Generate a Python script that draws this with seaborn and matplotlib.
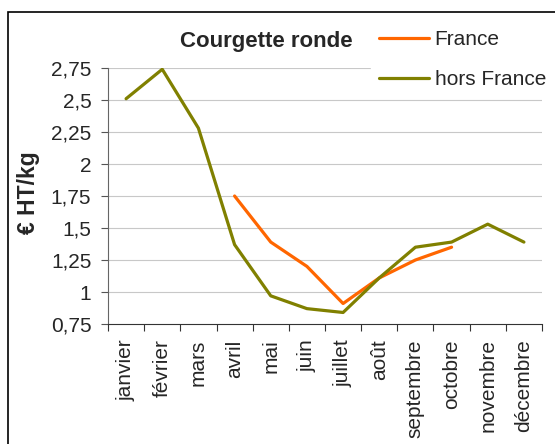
import numpy as np
import pandas as pd
import matplotlib
matplotlib.use('Agg')
import matplotlib.pyplot as plt
import seaborn as sns
from matplotlib.patches import Rectangle
from matplotlib.ticker import FixedLocator, FuncFormatter

months = ['janvier', 'février', 'mars', 'avril', 'mai', 'juin', 'juillet',
          'août', 'septembre', 'octobre', 'novembre', 'décembre']
france = [np.nan, np.nan, np.nan, 1.75, 1.39, 1.20, 0.91, 1.11, 1.25, 1.35,
          np.nan, np.nan]
hors_france = [2.51, 2.74, 2.28, 1.37, 0.97, 0.87, 0.84, 1.11, 1.35, 1.39,
               1.53, 1.39]
y_ticks = [0.75, 1.0, 1.25, 1.5, 1.75, 2.0, 2.25, 2.5, 2.75]

df = pd.DataFrame({
    'x': list(range(12)) * 2,
    'prix': france + hors_france,
    'origine': ['France'] * 12 + ['hors France'] * 12,
})

sns.set_style('white')
plt.rcParams['font.family'] = ['Liberation Sans', 'DejaVu Sans']

fig = plt.figure(figsize=(5.55, 4.44), dpi=100)
ax = fig.add_axes([108 / 555, 1 - 324 / 444, (542 - 108) / 555, (324 - 68) / 444])

for yv in y_ticks[1:]:
    ax.axhline(yv, color='#c8c8c8', lw=0.8, zorder=0)

sns.lineplot(data=df, x='x', y='prix', hue='origine',
             palette={'France': '#ff6600', 'hors France': '#808000'},
             lw=2.3, ax=ax, legend=True, zorder=3)

ax.set_xlim(-0.5, 11.5)
ax.set_ylim(0.75, 2.75)
ax.yaxis.set_major_locator(FixedLocator(y_ticks))
ax.yaxis.set_major_formatter(FuncFormatter(lambda v, p: f'{v:g}'.replace('.', ',')))
ax.set_xticks(range(12))
ax.set_xticklabels(months, rotation=90)
ax.set_xticks(np.arange(-0.5, 12, 1), minor=True)
ax.tick_params(axis='x', which='major', length=0, pad=11, labelsize=15)
ax.tick_params(axis='x', which='minor', length=5, width=0.8, color='#333333', direction='out', bottom=True)
ax.tick_params(axis='y', length=5, width=0.8, color='#555555', direction='out', left=True, labelsize=15, pad=7)

for s in ['top', 'right']:
    ax.spines[s].set_visible(False)
ax.spines['left'].set_color('#666666')
ax.spines['bottom'].set_color('#333333')
ax.spines['left'].set_linewidth(0.8)
ax.spines['bottom'].set_linewidth(0.8)

ax.set_xlabel('')
ax.set_ylabel('')
fig.text(29 / 555, 1 - 193 / 444, '€ HT/kg', rotation=90, ha='center', va='center',
         fontsize=16.5, fontweight='bold')

leg = ax.legend(title=None, loc='upper left', bbox_to_anchor=(371 / 555, 1 - 22 / 444),
                bbox_transform=fig.transFigure, frameon=True, fontsize=15,
                handlelength=2.4, handletextpad=0.25, labelspacing=1.0,
                borderaxespad=0, borderpad=0.4, fancybox=False)
leg.get_frame().set_facecolor('white')
leg.get_frame().set_edgecolor('white')
leg.get_frame().set_alpha(1)

fig.text(266 / 555, 1 - 41 / 444, 'Courgette ronde', ha='center', va='center',
         fontsize=16, fontweight='bold')

fig.patches.append(Rectangle((8 / 555, -0.1), 1.2, 1 - 12 / 444 + 0.1,
                             transform=fig.transFigure, fill=False,
                             edgecolor='black', lw=1.2))

fig.savefig('out.png', dpi=100)
